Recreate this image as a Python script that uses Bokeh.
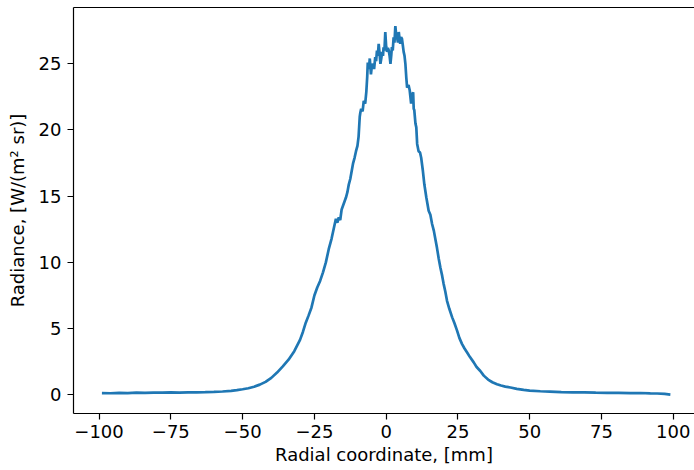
from bokeh.plotting import figure
from bokeh.models import Range1d, FixedTicker, LinearAxis
from bokeh.embed import file_html
from bokeh.resources import INLINE

# Radial coordinate [mm] and radiance [W/(m² sr)]
radial_mm = [
    -99, -96, -93, -90, -87, -84, -81, -78, -75, -72,
    -69, -66, -63, -60, -57, -54, -52, -50, -48, -46,
    -44, -42, -40, -38, -36, -34, -32, -30, -29, -28,
    -27, -26, -25, -24, -23, -22, -21, -20, -19, -18,
    -17.5, -17, -16.5, -16, -15.5, -15, -14, -13.5, -13, -12.5,
    -12, -11.5, -11, -10.5, -10, -9.6, -9.2, -9.0, -8.7, -8.2,
    -7.8, -7.3, -6.9, -6.6, -6.4, -6.0, -5.7, -5.3, -5.0, -4.6,
    -4.2, -3.8, -3.5, -3.2, -2.9, -2.6, -2.3, -2.0, -1.7, -1.4,
    -1.1, -0.9, -0.6, -0.3, 0.0, 0.3, 0.6, 0.9, 1.2, 1.5,
    1.8, 2.0, 2.3, 2.6, 2.9, 3.2, 3.5, 3.8, 4.1, 4.4,
    4.7, 4.9, 5.2, 5.5, 5.8, 6.1, 6.4, 6.7, 7.0, 7.3,
    7.8, 8.2, 8.7, 9.0, 9.4, 9.6, 9.8, 10.2, 10.5, 10.8,
    11.3, 11.8, 12.2, 12.8, 13.3, 14.0, 14.8, 15.4, 16.0, 16.6,
    17.2, 17.7, 18.3, 18.9, 19.5, 20.0, 20.6, 21.2, 22.0, 23.0,
    23.8, 24.7, 25.5, 26.4, 27.3, 28.2, 29.2, 30.5, 31.5, 32.8,
    34.0, 35.5, 37.0, 38.6, 40.0, 41.5, 43.3, 45.5, 47.9, 50.0,
    53.7, 57.0, 61.0, 65.0, 69.0, 73.0, 77.0, 81.0, 85.0, 88.6,
    92.0, 94.4, 97.0, 99.0,
]
radiance = [
    0.13, 0.12, 0.15, 0.13, 0.16, 0.15, 0.17, 0.16, 0.18, 0.17,
    0.18, 0.19, 0.20, 0.22, 0.25, 0.30, 0.35, 0.42, 0.50, 0.61,
    0.77, 0.98, 1.28, 1.68, 2.15, 2.65, 3.30, 4.15, 4.75, 5.45,
    6.00, 6.60, 7.50, 8.10, 8.60, 9.25, 10.0, 11.0, 11.8, 12.8,
    13.3, 13.0, 13.4, 13.2, 14.0, 14.3, 14.9, 15.3, 15.9, 16.3,
    16.9, 17.5, 17.9, 18.4, 18.8, 19.5, 21.0, 21.3, 21.6, 21.4,
    22.2, 22.0, 22.9, 24.0, 25.1, 24.6, 25.4, 24.2, 24.8, 25.0,
    24.6, 25.5, 25.2, 26.0, 25.6, 26.5, 25.8, 25.0, 25.4, 25.9,
    25.6, 26.25, 26.0, 27.4, 26.3, 25.9, 26.2, 26.0, 25.6, 25.0,
    25.7, 26.25, 26.0, 27.0, 26.6, 27.85, 27.2, 27.0, 26.6, 27.4,
    26.8, 26.5, 27.0, 26.9, 26.4, 25.9, 25.6, 25.0, 24.0, 23.2,
    23.4, 23.0, 22.0, 22.6, 22.85, 21.6, 21.5, 20.5, 20.2, 18.95,
    18.4, 18.3, 17.9, 16.9, 15.9, 14.9, 13.9, 13.6, 12.9, 12.4,
    11.7, 11.1, 10.3, 9.6, 9.0, 8.4, 7.8, 7.1, 6.5, 5.85,
    5.4, 4.85, 4.3, 3.85, 3.5, 3.2, 2.85, 2.45, 2.1, 1.8,
    1.45, 1.15, 0.95, 0.80, 0.70, 0.62, 0.55, 0.45, 0.37, 0.32,
    0.27, 0.24, 0.20, 0.18, 0.19, 0.16, 0.15, 0.15, 0.13, 0.14,
    0.11, 0.10, 0.07, 0.02,
]
x_ticks = [-100, -75, -50, -25, 0, 25, 50, 75, 100]
y_ticks = [0, 5, 10, 15, 20, 25]
x_label = "Radial coordinate, [mm]"
y_label = "Radiance, [W/(m² sr)]"

FONT = "DejaVu Sans"

p = figure(width=694, height=470, output_backend="svg", toolbar_location=None,
           x_range=Range1d(-108.9, 107.4), y_range=Range1d(-1.41, 29.25),
           min_border_left=73, min_border_right=0, min_border_top=7,
           min_border_bottom=57)
p.outline_line_color = None
p.grid.visible = False
p.background_fill_color = "white"
p.border_fill_color = "white"

p.line(radial_mm, radiance, line_color="#1f77b4", line_width=2.7)

def style(ax):
    ax.axis_line_color = "black"
    ax.axis_line_width = 1.2
    ax.major_tick_line_color = "black"
    ax.major_tick_line_width = 1.2
    ax.major_tick_out = 6
    ax.major_tick_in = 0
    ax.minor_tick_line_color = None
    ax.major_label_text_font = FONT
    ax.major_label_text_font_size = "18px"
    ax.major_label_text_color = "black"
    ax.axis_label_text_font = FONT
    ax.axis_label_text_font_size = "18px"
    ax.axis_label_text_font_style = "normal"
    ax.axis_label_text_color = "black"

xa = p.xaxis[0]
ya = p.yaxis[0]
style(xa)
style(ya)
xa.ticker = FixedTicker(ticks=x_ticks)
xa.major_label_overrides = {t: (str(t).replace("-", "\u2212")) for t in x_ticks}
xa.major_label_standoff = 5
xa.axis_label = x_label
xa.axis_label_standoff = 3
ya.ticker = FixedTicker(ticks=y_ticks)
ya.major_label_standoff = 6
ya.axis_label = y_label
ya.axis_label_standoff = 8

top = LinearAxis(ticker=FixedTicker(ticks=[]))
top.axis_line_color = "black"
top.axis_line_width = 1.2
top.major_tick_line_color = None
top.minor_tick_line_color = None
p.add_layout(top, "above")

open("out.html", "w").write(file_html(p, INLINE))
